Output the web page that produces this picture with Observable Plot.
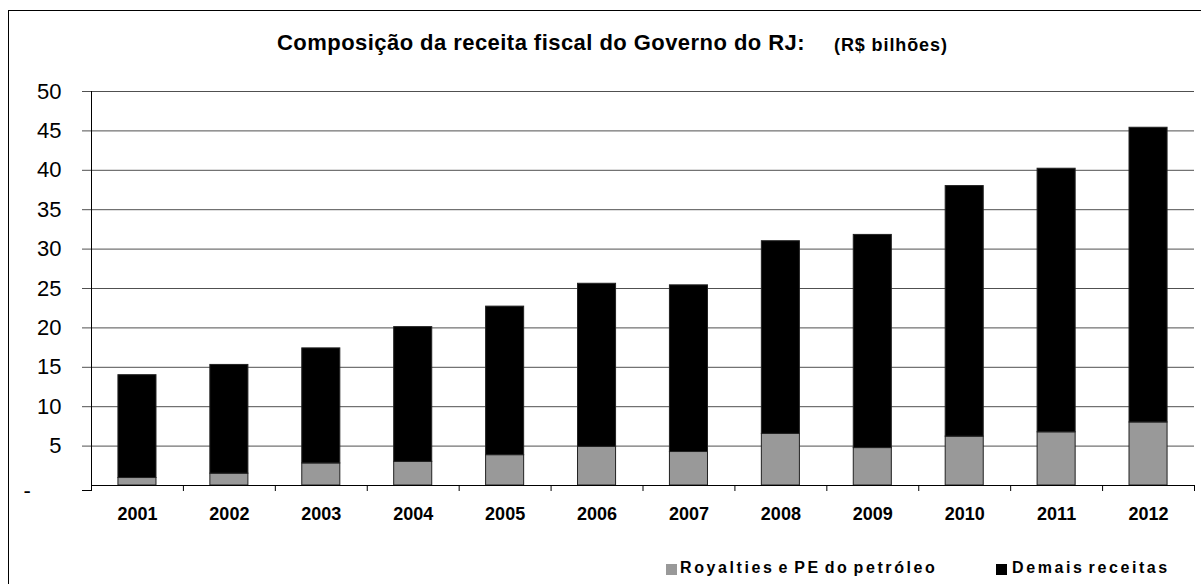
<!DOCTYPE html>
<html><head><meta charset="utf-8">
<script src="https://cdn.jsdelivr.net/npm/d3@7"></script>
<script src="https://cdn.jsdelivr.net/npm/@observablehq/plot@0.6"></script>
<style>
body{margin:0;background:#fff;}
#wrap{position:relative;width:1201px;height:584px;overflow:hidden;font-family:"Liberation Sans",Arial,sans-serif;color:#000;}
#frame{position:absolute;left:8px;top:10px;width:1300px;height:700px;border:1px solid #000;}
#chart{position:absolute;left:0;top:0;}
#title{position:absolute;top:32px;left:277px;font-weight:bold;font-size:22px;line-height:1;white-space:nowrap;letter-spacing:0.45px;}
#sub{position:absolute;top:36px;left:834px;font-weight:bold;font-size:18px;line-height:1;white-space:nowrap;letter-spacing:0.9px;}
.leg{position:absolute;top:560px;font-weight:bold;font-size:16px;line-height:1;white-space:nowrap;letter-spacing:2.6px;word-spacing:-3px;}
.sq{position:absolute;top:564px;width:11px;height:11px;}
</style></head>
<body><div id="wrap"><div id="frame"></div><div id="chart"></div>
<div id="title">Composição da receita fiscal do Governo do RJ:</div>
<div id="sub">(R$ bilhões)</div>
<div class="sq" style="left:666px;background:#999999;"></div>
<div class="leg" style="left:680px;" id="leg1"></div>
<div class="sq" style="left:996px;background:#000;"></div>
<div class="leg" style="left:1012px;" id="leg2"></div>
</div>
<script>
const years = [2001, 2002, 2003, 2004, 2005, 2006, 2007, 2008, 2009, 2010, 2011, 2012];
const royalties = [0.95, 1.5, 2.8, 3.0, 3.85, 4.9, 4.25, 6.55, 4.75, 6.2, 6.75, 8.0];
const demais = [13.05, 13.8, 14.6, 17.1, 18.85, 20.7, 21.15, 24.45, 27.05, 31.8, 33.45, 37.4];
const seriesNames = ["Royalties e PE do petróleo", "Demais receitas"];
const yTicks = [5, 10, 15, 20, 25, 30, 35, 40, 45, 50];
const zeroTick = [0];
const boundaries = [2000.5, 2001.5, 2002.5, 2003.5, 2004.5, 2005.5, 2006.5, 2007.5, 2008.5, 2009.5, 2010.5, 2011.5, 2012.5];

document.getElementById("leg1").textContent = seriesNames[0];
document.getElementById("leg2").textContent = seriesNames[1];

const table = [];
years.forEach((yr, i) => {
  table.push({year: yr, series: seriesNames[0], y1: 0, y2: royalties[i]});
  table.push({year: yr, series: seriesNames[1], y1: royalties[i], y2: royalties[i] + demais[i]});
});
const half = 0.207;

const chart = Plot.plot({
  width: 1201, height: 584,
  marginLeft: 91, marginRight: 7, marginTop: 91, marginBottom: 99,
  x: {type: "linear", domain: [2000.5, 2012.5], axis: null},
  y: {domain: [0, 50], axis: null},
  color: {domain: seriesNames, range: ["#999999", "#000000"]},
  style: {fontFamily: "Liberation Sans, Arial, sans-serif", background: "transparent", color: "#000", overflow: "visible"},
  marks: [
    Plot.ruleY(yTicks, {stroke: "#505050", strokeWidth: 1}),
    Plot.rect(table, {x1: d => d.year - half, x2: d => d.year + half, y1: "y1", y2: "y2", fill: "series", stroke: "#222", strokeWidth: 1}),
    Plot.ruleY(zeroTick, {stroke: "#000"}),
    Plot.ruleX([2000.5], {y1: 0, y2: 50, stroke: "#000"}),
    Plot.axisY({ticks: yTicks, tickSize: 9, tickPadding: 21, fontSize: 22, stroke: "#505050", tickFormat: d => String(d)}),
    Plot.axisY({ticks: zeroTick, tickSize: 9, tickPadding: 21, fontSize: 22, stroke: "#000", tickFormat: () => "-\u00a0\u00a0\u00a0\u00a0\u00a0", dy: 5}),
    Plot.axisX({ticks: boundaries, tickSize: 6, tickFormat: () => "", stroke: "#000"}),
    Plot.text(years, {x: d => d, y: 0, dy: 29, text: d => String(d), fontWeight: "bold", fontSize: 18, fill: "#000"})
  ]
});
document.getElementById("chart").appendChild(chart);
</script>
</body></html>
